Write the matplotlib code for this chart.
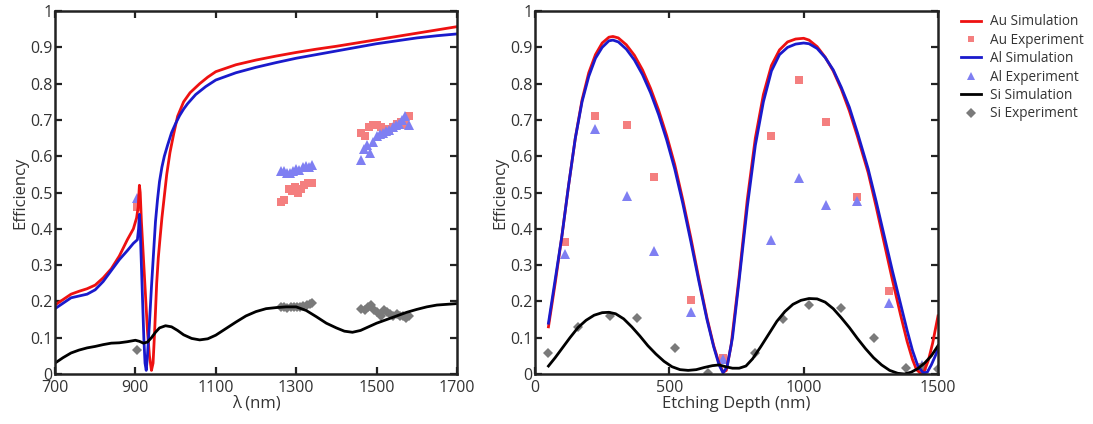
import numpy as np
import matplotlib
matplotlib.use('Agg')
import matplotlib.pyplot as plt
from matplotlib.ticker import FormatStrFormatter

plt.rcParams['font.family'] = ['Open Sans', 'DejaVu Sans']

# ---- left panel: efficiency vs wavelength ----
wl_au = [700, 720, 740, 760, 780, 800, 820, 840, 860, 880, 895, 903, 907, 910, 912, 915,
         920, 925, 930, 935, 940, 944, 948, 953, 957, 961, 966, 970, 978, 986, 995, 1005,
         1020, 1036, 1060, 1080, 1100, 1150, 1200, 1250, 1300, 1350, 1400, 1450, 1500,
         1550, 1600, 1650, 1700]
eff_au = [0.19, 0.205, 0.22, 0.228, 0.235, 0.245, 0.265, 0.29, 0.325, 0.37, 0.40, 0.43, 0.46,
          0.52, 0.50, 0.42, 0.32, 0.22, 0.12, 0.05, 0.01, 0.03, 0.12, 0.25, 0.32, 0.37, 0.43,
          0.47, 0.55, 0.61, 0.66, 0.71, 0.75, 0.775, 0.80, 0.818, 0.833, 0.852, 0.865, 0.876,
          0.886, 0.895, 0.903, 0.912, 0.921, 0.93, 0.939, 0.948, 0.957]

wl_al = [700, 720, 740, 760, 780, 800, 820, 840, 860, 880, 895, 905, 908, 910, 912, 915,
         918, 921, 924, 927, 930, 935, 940, 945, 950, 955, 960, 966, 972, 980, 990, 1000,
         1010, 1020, 1030, 1050, 1075, 1100, 1150, 1200, 1250, 1300, 1350, 1400, 1450,
         1500, 1550, 1600, 1650, 1700]
eff_al = [0.18, 0.195, 0.21, 0.215, 0.22, 0.232, 0.255, 0.285, 0.315, 0.34, 0.36, 0.37, 0.40,
          0.44, 0.40, 0.30, 0.20, 0.10, 0.03, 0.01, 0.05, 0.14, 0.24, 0.33, 0.42, 0.48, 0.53,
          0.57, 0.60, 0.63, 0.665, 0.69, 0.712, 0.73, 0.745, 0.77, 0.792, 0.81, 0.83, 0.845,
          0.858, 0.87, 0.88, 0.89, 0.90, 0.91, 0.918, 0.926, 0.932, 0.937]

wl_si = [700, 720, 740, 760, 780, 800, 820, 840, 860, 880, 900, 910, 920, 930, 940, 950,
         960, 975, 990, 1005, 1020, 1040, 1060, 1080, 1100, 1125, 1150, 1175, 1200, 1225,
         1250, 1275, 1300, 1325, 1350, 1375, 1400, 1420, 1440, 1460, 1480, 1500, 1525,
         1550, 1575, 1600, 1625, 1650, 1675, 1700]
eff_si = [0.03, 0.045, 0.058, 0.066, 0.072, 0.076, 0.081, 0.085, 0.086, 0.089, 0.093, 0.09,
          0.085, 0.088, 0.10, 0.115, 0.127, 0.133, 0.13, 0.12, 0.108, 0.098, 0.094, 0.097,
          0.107, 0.125, 0.143, 0.16, 0.172, 0.18, 0.183, 0.185, 0.185, 0.175, 0.158, 0.14,
          0.127, 0.118, 0.115, 0.12, 0.13, 0.14, 0.15, 0.16, 0.17, 0.178, 0.185, 0.19,
          0.192, 0.194]

# experiment, left panel
wl_au_exp = [905, 1262, 1270, 1282, 1290, 1298, 1305, 1312, 1320, 1330, 1340,
             1462, 1470, 1480, 1490, 1500, 1510, 1520, 1530, 1540, 1550, 1560, 1570, 1580]
au_exp = [0.46, 0.475, 0.48, 0.51, 0.505, 0.515, 0.50, 0.51, 0.52, 0.525, 0.525,
          0.665, 0.655, 0.68, 0.685, 0.685, 0.68, 0.67, 0.675, 0.68, 0.69, 0.695, 0.685, 0.71]

wl_al_exp = [905, 1262, 1270, 1278, 1285, 1292, 1300, 1308, 1316, 1324, 1332, 1340,
             1460, 1468, 1476, 1484, 1492, 1500, 1508, 1516, 1524, 1532, 1540, 1548, 1556,
             1564, 1570, 1580]
al_exp = [0.485, 0.56, 0.558, 0.553, 0.555, 0.56, 0.565, 0.562, 0.57, 0.573, 0.57, 0.575,
          0.59, 0.62, 0.63, 0.61, 0.64, 0.655, 0.66, 0.665, 0.67, 0.672, 0.68, 0.685, 0.69,
          0.70, 0.71, 0.685]

wl_si_exp = [905, 1262, 1270, 1278, 1286, 1294, 1302, 1310, 1318, 1326, 1334, 1340,
             1462, 1470, 1478, 1486, 1494, 1502, 1510, 1518, 1526, 1534, 1542, 1550, 1558,
             1566, 1574, 1580]
si_exp = [0.065, 0.185, 0.185, 0.183, 0.186, 0.184, 0.186, 0.185, 0.188, 0.19, 0.192, 0.195,
          0.18, 0.175, 0.185, 0.19, 0.175, 0.17, 0.16, 0.175, 0.17, 0.165, 0.16, 0.165, 0.16,
          0.16, 0.155, 0.16]

# ---- right panel: efficiency vs etching depth ----
d_au = [50, 75, 100, 125, 150, 175, 200, 225, 250, 275, 290, 310, 340, 370, 400, 430, 460,
        490, 520, 550, 580, 610, 640, 665, 685, 700, 712, 730, 760, 790, 820, 850, 880, 910,
        940, 970, 1000, 1020, 1050, 1080, 1110, 1140, 1170, 1200, 1240, 1270, 1300, 1330,
        1360, 1385, 1405, 1420, 1435, 1450, 1465, 1480, 1500]
d_eff_au = [0.13, 0.25, 0.38, 0.52, 0.65, 0.755, 0.83, 0.88, 0.912, 0.928, 0.93, 0.926, 0.907,
            0.878, 0.838, 0.787, 0.727, 0.657, 0.577, 0.48, 0.375, 0.262, 0.155, 0.078, 0.03,
            0.005, 0.01, 0.08, 0.27, 0.48, 0.65, 0.77, 0.85, 0.893, 0.915, 0.923, 0.925, 0.92,
            0.902, 0.873, 0.835, 0.785, 0.725, 0.655, 0.555, 0.46, 0.36, 0.26, 0.165, 0.09,
            0.04, 0.012, 0.002, 0.01, 0.04, 0.085, 0.16]

d_al = [50, 75, 100, 125, 150, 175, 200, 225, 250, 275, 290, 310, 340, 370, 400, 430, 460,
        490, 520, 550, 580, 610, 640, 665, 685, 700, 715, 735, 760, 790, 820, 850, 880, 910,
        940, 970, 1000, 1020, 1050, 1080, 1110, 1140, 1170, 1200, 1240, 1270, 1300, 1330,
        1360, 1385, 1405, 1425, 1445, 1460, 1475, 1490, 1500]
d_eff_al = [0.14, 0.26, 0.38, 0.52, 0.65, 0.75, 0.82, 0.87, 0.90, 0.918, 0.92, 0.915, 0.895,
            0.865, 0.825, 0.775, 0.715, 0.645, 0.565, 0.47, 0.365, 0.255, 0.15, 0.075, 0.025,
            0.003, 0.02, 0.10, 0.26, 0.46, 0.63, 0.75, 0.835, 0.88, 0.9, 0.909, 0.912, 0.91,
            0.897, 0.872, 0.838, 0.79, 0.735, 0.665, 0.565, 0.475, 0.38, 0.285, 0.195, 0.12,
            0.065, 0.022, 0.003, 0.005, 0.025, 0.05, 0.07]

d_si = [50, 75, 100, 130, 160, 190, 220, 250, 275, 300, 330, 360, 390, 420, 450, 480, 510,
        540, 570, 600, 630, 660, 685, 710, 735, 760, 785, 810, 840, 870, 900, 930, 960, 990,
        1020, 1050, 1080, 1110, 1140, 1170, 1200, 1230, 1260, 1290, 1320, 1350, 1375, 1400,
        1425, 1450, 1475, 1500]
d_eff_si = [0.022, 0.045, 0.07, 0.10, 0.128, 0.148, 0.162, 0.169, 0.17, 0.166, 0.152, 0.13,
            0.105, 0.078, 0.055, 0.035, 0.02, 0.012, 0.01, 0.012, 0.018, 0.023, 0.025, 0.02,
            0.016, 0.016, 0.022, 0.042, 0.075, 0.11, 0.145, 0.172, 0.192, 0.203, 0.208, 0.207,
            0.198, 0.18, 0.155, 0.128, 0.098, 0.07, 0.045, 0.025, 0.01, 0.002, 0.0, 0.005,
            0.015, 0.03, 0.05, 0.078]

d_exp = [110, 222, 341, 442, 581, 701, 880, 981, 1082, 1200, 1319, 1442]
d_au_exp = [0.365, 0.71, 0.685, 0.543, 0.203, 0.045, 0.655, 0.81, 0.695, 0.487, 0.23, 0.02]
d_al_exp = [0.33, 0.675, 0.49, 0.34, 0.17, 0.04, 0.37, 0.54, 0.465, 0.477, 0.197, 0.025]

d_si_exp = [50, 159, 280, 381, 522, 643, 820, 922, 1021, 1140, 1260, 1381, 1442, 1500]
d_si_val = [0.058, 0.13, 0.16, 0.155, 0.072, 0.004, 0.057, 0.152, 0.19, 0.183, 0.098, 0.017,
            0.02, 0.013]

RED = '#ee1111'
BLUE = '#1a1acc'
AU_M = '#f47f7f'
AL_M = '#7f7ff2'
SI_M = '#7a7a7a'
TXT = '#333333'

fig = plt.figure(figsize=(10.93, 4.24), dpi=100)
ax1 = fig.add_axes([0.0503, 0.1179, 0.3678, 0.856])
ax2 = fig.add_axes([0.4895, 0.1179, 0.3687, 0.856])

lw = 2.0
ms = dict(linestyle='none', markeredgewidth=0)

# left
ax1.plot(wl_au_exp, au_exp, marker='s', markersize=5.5, color=AU_M, **ms)
ax1.plot(wl_al_exp, al_exp, marker='^', markersize=7, color=AL_M, **ms)
ax1.plot(wl_si_exp, si_exp, marker='D', markersize=5.5, color=SI_M, **ms)
ax1.plot(wl_au, eff_au, color=RED, lw=lw)
ax1.plot(wl_al, eff_al, color=BLUE, lw=lw)
ax1.plot(wl_si, eff_si, color='black', lw=lw)
ax1.set_xlim(700, 1700)
ax1.set_xticks([700, 900, 1100, 1300, 1500, 1700])
ax1.set_xlabel('λ (nm)', fontsize=12, color=TXT, labelpad=0)

# right
h_aue, = ax2.plot(d_exp, d_au_exp, marker='s', markersize=5.5, color=AU_M, **ms)
h_ale, = ax2.plot(d_exp, d_al_exp, marker='^', markersize=7, color=AL_M, **ms)
h_sie, = ax2.plot(d_si_exp, d_si_val, marker='D', markersize=5.5, color=SI_M, **ms)
h_aus, = ax2.plot(d_au, d_eff_au, color=RED, lw=lw)
h_als, = ax2.plot(d_al, d_eff_al, color=BLUE, lw=lw)
h_sis, = ax2.plot(d_si, d_eff_si, color='black', lw=lw)
ax2.set_xlim(0, 1500)
ax2.set_xticks([0, 500, 1000, 1500])
ax2.set_xlabel('Etching Depth (nm)', fontsize=12, color=TXT, labelpad=0)

for ax in (ax1, ax2):
    ax.set_ylim(0, 1)
    ax.set_yticks(np.arange(0, 1.01, 0.1))
    ax.yaxis.set_major_formatter(FormatStrFormatter('%g'))
    ax.set_ylabel('Efficiency', fontsize=12, color=TXT, labelpad=1)
    ax.tick_params(direction='in', length=5, width=1.6, top=True, right=True,
                   labelsize=11.5, labelcolor=TXT, pad=2, color='#222222')
    ax.tick_params(axis='x', pad=4)
    for s in ax.spines.values():
        s.set_linewidth(1.8)
        s.set_color('#222222')

fig.legend([h_aus, h_aue, h_als, h_ale, h_sis, h_sie],
           ['Au Simulation', 'Au Experiment', 'Al Simulation', 'Al Experiment',
            'Si Simulation', 'Si Experiment'],
           loc='upper left', bbox_to_anchor=(0.868, 0.995), frameon=False,
           fontsize=9.8, handlelength=1.5, handletextpad=0.6, labelspacing=0.25,
           labelcolor=TXT, markerscale=0.85)

fig.savefig('out.png', dpi=100)
